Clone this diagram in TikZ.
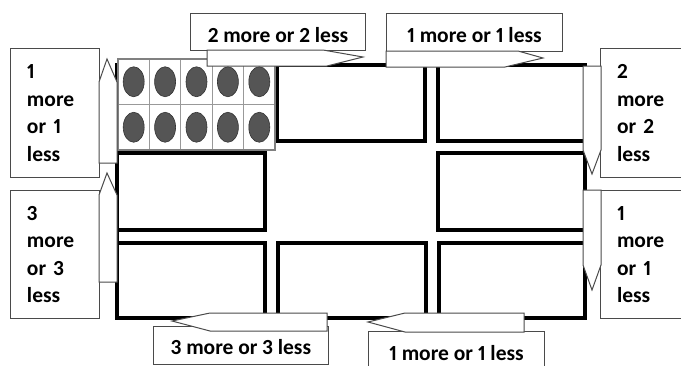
\documentclass[tikz,border=0pt]{standalone}
\usepackage{fontspec}
\setmainfont{Carlito}[Numbers=Proportional]
\definecolor{boxgray}{HTML}{4A4A4A}
\definecolor{tfgray}{HTML}{808080}
\definecolor{dotfill}{HTML}{555555}
\definecolor{dotline}{HTML}{333333}
\begin{document}
\begin{tikzpicture}[x=1pt,y=-1pt,
  frame/.style={draw=black,line width=3.6pt},
  box/.style={draw=boxgray,line width=1pt,fill=white,inner sep=0pt,
    font=\bfseries\fontsize{21.5}{27.5}\selectfont},
  vbox/.style={box,anchor=north west,minimum width=89pt,text width=56pt,align=left},
  hbox/.style={box,anchor=north west,text depth=0pt},
  callout/.style={draw=boxgray,line width=1pt,fill=white,line join=miter},
  tenframe/.style={draw=tfgray,line width=2.5pt,fill=white},
  tengrid/.style={draw=tfgray!80,line width=0.8pt},
  counter/.style={fill=dotfill,draw=dotline,line width=0.6pt}]
\useasboundingbox (0,0) rectangle (681,365);
\begin{scope}
\clip (0,0) rectangle (681,365);
% frame and rectangles
\draw[frame] (117,65) rectangle (585,318);
\draw[frame] (277,65) rectangle (425,141);
\draw[frame] (438,65) rectangle (585,141);
\draw[frame] (117,153) rectangle (265,230);
\draw[frame] (438,153) rectangle (585,230);
\draw[frame] (117,243) rectangle (265,318);
\draw[frame] (278,243) rectangle (426,318);
\draw[frame] (439,243) rectangle (585,318);
% ten frame
\draw[tenframe] (118,59) rectangle (275,150);
\foreach \i in {1,...,4} \draw[tengrid] (118+31.4*\i,59) -- (118+31.4*\i,150);
\draw[tengrid] (118,104.5) -- (275,104.5);
\draw[tenframe,fill=none] (118,59) rectangle (275,150);
\foreach \i in {0,...,4} \foreach \j in {0,1}
  \draw[counter] (133.7+31.4*\i,81.75+45.5*\j) ellipse (10.5pt and 15pt);
% boxes
\node[vbox,minimum height=129pt] (b1) at (10,48) {1\\more\\or 1\\less};
\node[vbox,minimum height=128pt] (b2) at (10,190) {3\\more\\or 3\\less};
\node[vbox,minimum height=129pt] (b5) at (600,48) {2\\more\\or 2\\less};
\node[vbox,minimum height=128pt] (b6) at (600,190) {1\\more\\or 1\\less};
\node[hbox,minimum width=175pt,minimum height=37pt,text height=21pt] (b3) at (190,13) {2 more or 2 less};
\node[hbox,minimum width=176pt,minimum height=38pt,text height=20pt] (b4) at (386,13) {1 more or 1 less};
\node[hbox,minimum width=175pt,minimum height=38pt,text height=18pt] (b7) at (153,326) {3 more or 3 less};
\node[hbox,minimum width=176pt,minimum height=40pt,text height=18pt] (b8) at (368,331) {1 more or 1 less};
% callout pointers
\draw[callout] (99,163) -- (99,82) -- (107,59) -- (117,82) -- (117,163) -- cycle;
\draw[callout] (99,282) -- (99,195) -- (107,173) -- (117,195) -- (117,282) -- cycle;
\draw[callout] (207,50) -- (323,50) -- (363,57) -- (327,66) -- (207,66) -- cycle;
\draw[callout] (386,51) -- (518,51) -- (543,58) -- (505,67) -- (386,67) -- cycle;
\draw[callout] (583,66) -- (601,66) -- (601,150) -- (592,174) -- (583,150) -- cycle;
\draw[callout] (583,190) -- (601,190) -- (601,265) -- (592,290) -- (583,265) -- cycle;
\draw[callout] (327,313) -- (210,313) -- (172,321) -- (210,331) -- (327,331) -- cycle;
\draw[callout] (524,313) -- (405,313) -- (368,322) -- (405,332) -- (524,332) -- cycle;
\end{scope}
\end{tikzpicture}
\end{document}
